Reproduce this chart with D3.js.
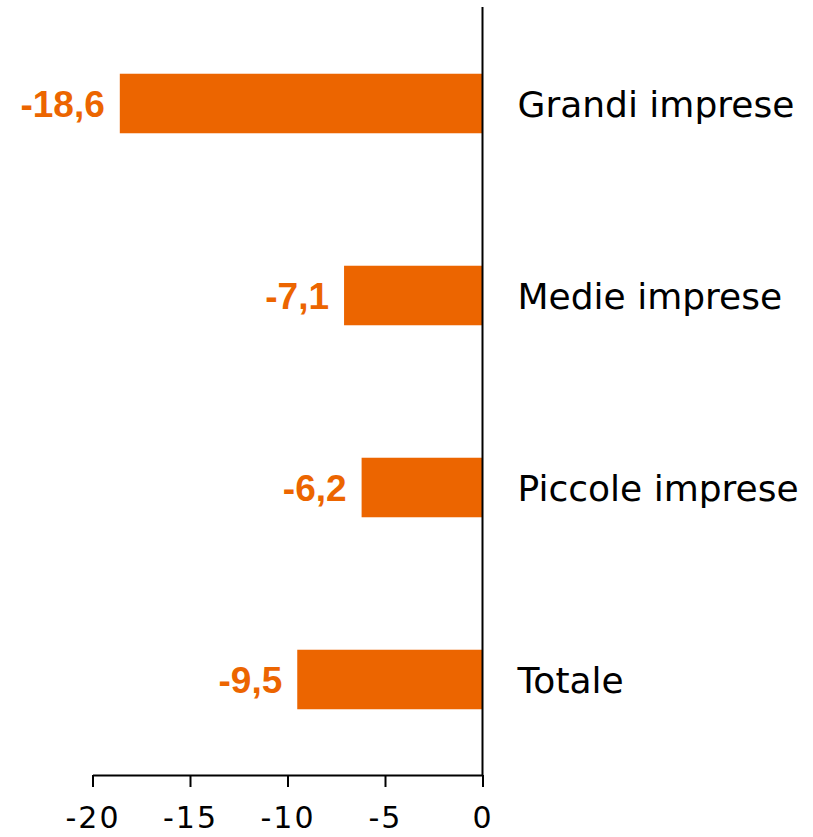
<!DOCTYPE html>
<html><head><meta charset="utf-8">
<script src="https://cdn.jsdelivr.net/npm/d3@7"></script>
<style>html,body{margin:0;padding:0;background:#fff;}</style>
</head><body>
<svg id="chart" width="813" height="837"></svg>
<script>
const categories = ["Grandi imprese", "Medie imprese", "Piccole imprese", "Totale"];
const values = [-18.6, -7.1, -6.2, -9.5];
const valueLabels = ["-18,6", "-7,1", "-6,2", "-9,5"];
const xTicks = [-20, -15, -10, -5, 0];

const svg = d3.select("#chart");
const x = d3.scaleLinear().domain([-20, 0]).range([92.5, 482.5]);
const y = d3.scaleBand().domain(categories).range([7.5, 775.5]).paddingInner(0.69).paddingOuter(0.345);
const orange = "#ec6500";

svg.selectAll("rect.bar").data(categories).enter().append("rect")
  .attr("class", "bar")
  .attr("x", (d, i) => x(values[i]))
  .attr("width", (d, i) => x(0) - x(values[i]))
  .attr("y", d => y(d))
  .attr("height", y.bandwidth())
  .attr("fill", orange);

// vertical zero line
svg.append("line").attr("x1", x(0)).attr("x2", x(0)).attr("y1", 7).attr("y2", 775)
  .attr("stroke", "#000").attr("stroke-width", 2);

// x axis
const axis = d3.axisBottom(x).tickValues(xTicks).tickFormat(d => d === 0 ? "0" : "-" + Math.abs(d)).tickSize(12).tickSizeOuter(0);
const g = svg.append("g").attr("transform", "translate(0,775)").call(axis);
g.select(".domain").attr("stroke", "#000").attr("stroke-width", 2);
g.selectAll(".tick line").attr("stroke", "#000").attr("stroke-width", 2);
g.selectAll(".tick text").attr("font-family", "DejaVu Sans").attr("font-size", 30)
  .attr("letter-spacing", 2)
  .attr("fill", "#000").attr("y", 53).attr("dy", 0);

// category labels
svg.selectAll("text.cat").data(categories).enter().append("text")
  .attr("class", "cat")
  .attr("x", x(0) + 35)
  .attr("y", d => y(d) + y.bandwidth() / 2 + 13)
  .attr("font-family", "DejaVu Sans").attr("font-size", 36).attr("fill", "#000")
  .text(d => d);

// value labels
svg.selectAll("text.val").data(categories).enter().append("text")
  .attr("class", "val")
  .attr("x", (d, i) => x(values[i]) - 15)
  .attr("y", d => y(d) + y.bandwidth() / 2 + 13.5)
  .attr("text-anchor", "end")
  .attr("font-family", "Liberation Sans").attr("font-weight", "bold").attr("font-size", 37).attr("fill", orange)
  .text((d, i) => valueLabels[i]);
</script>
</body></html>
